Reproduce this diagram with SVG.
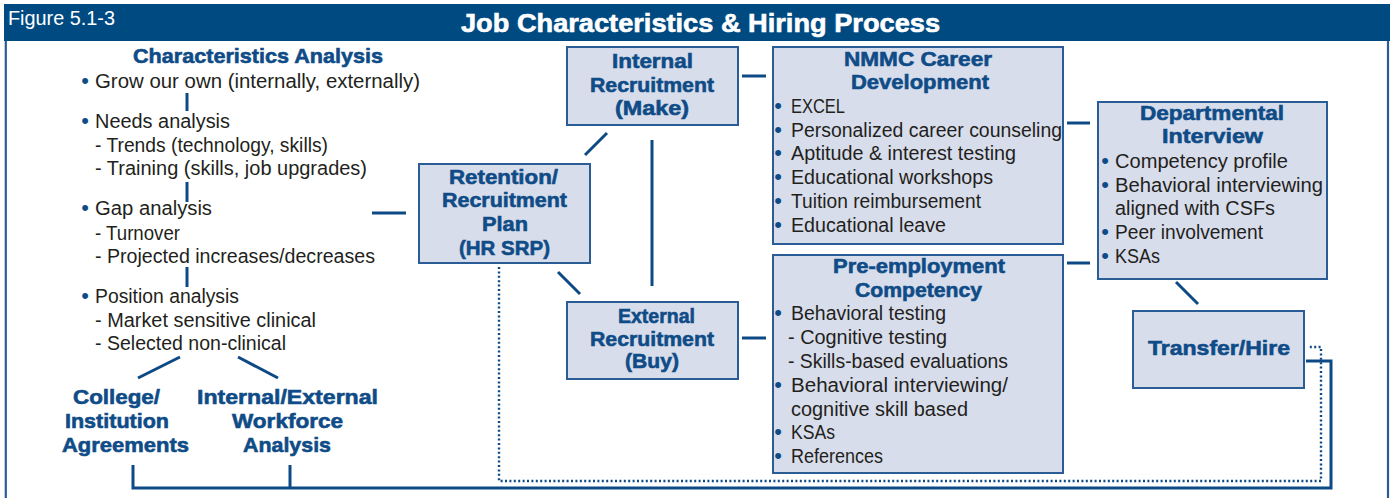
<svg xmlns="http://www.w3.org/2000/svg" width="1392" height="498" viewBox="0 0 1392 498">
<style>
.hd{font-family:"Liberation Sans",Arial,sans-serif;font-weight:bold;font-size:21px;fill:#0F4C87;stroke:#0F4C87;stroke-width:0.6}
.tx{font-family:"Liberation Sans",Arial,sans-serif;font-size:20px;fill:#231F20}
.bu{font-family:"Liberation Sans",Arial,sans-serif;font-size:22px;fill:#0F4C87;text-anchor:middle}
.box{fill:#D8DDEB;stroke:#2A5C95;stroke-width:2}
.ln{fill:none;stroke:#0D4A85;stroke-width:3}
.dot{fill:none;stroke:#0D4A85;stroke-width:2.4;stroke-dasharray:2 2.4}
</style>
<rect width="1392" height="498" fill="#FFFFFF"/>
<g id="frame">
<rect x="4" y="4" width="1386" height="37" fill="#004A82"/>
<line x1="5.8" y1="41" x2="5.8" y2="498" stroke="#2A5C95" stroke-width="2.2"/>
<line x1="1388" y1="41" x2="1388" y2="498" stroke="#2A5C95" stroke-width="2.2"/>
<text x="8" y="25" font-family="Liberation Sans,Arial,sans-serif" font-size="19.5" fill="#FFFFFF" textLength="107" lengthAdjust="spacingAndGlyphs">Figure 5.1-3</text>
<text x="461" y="32" font-family="Liberation Sans,Arial,sans-serif" font-weight="bold" font-size="26" fill="#FFFFFF" stroke="#FFFFFF" stroke-width="0.6" textLength="479" lengthAdjust="spacingAndGlyphs">Job Characteristics &amp; Hiring Process</text>
</g>
<g id="connectors">
<line class="ln" x1="187" y1="93" x2="187" y2="111"/>
<line class="ln" x1="187" y1="182" x2="187" y2="202"/>
<line class="ln" x1="187" y1="267" x2="187" y2="287"/>
<line class="ln" x1="180" y1="357" x2="138" y2="378"/>
<line class="ln" x1="238" y1="357" x2="278" y2="378"/>
<line class="ln" x1="372" y1="213" x2="406" y2="213"/>
<line class="ln" x1="585" y1="155" x2="607" y2="133"/>
<line class="ln" x1="558" y1="272" x2="580" y2="294"/>
<line class="ln" x1="652" y1="140" x2="652" y2="286"/>
<line class="ln" x1="742" y1="76" x2="766" y2="76"/>
<line class="ln" x1="742" y1="338" x2="766" y2="338"/>
<line class="ln" x1="1067" y1="123" x2="1090" y2="123"/>
<line class="ln" x1="1067" y1="263" x2="1090" y2="263"/>
<line class="ln" x1="1176" y1="282" x2="1198" y2="304"/>
<polyline class="ln" points="133,465 133,488 1331,488 1331,361 1306,361"/>
<line class="ln" x1="290" y1="465" x2="290" y2="488"/>
<polyline class="dot" points="499,267 499,481 1321,481 1321,347 1309,347"/>
</g>
<g id="characteristics-analysis">
<text class="hd" x="133" y="63" textLength="250" lengthAdjust="spacingAndGlyphs">Characteristics Analysis</text>
<text class="bu" x="85" y="88">•</text>
<text class="tx" x="95" y="88" textLength="325" lengthAdjust="spacingAndGlyphs">Grow our own (internally, externally)</text>
<text class="bu" x="85" y="128">•</text>
<text class="tx" x="95" y="128" textLength="135" lengthAdjust="spacingAndGlyphs">Needs analysis</text>
<text class="tx" x="95" y="152" textLength="233" lengthAdjust="spacingAndGlyphs">- Trends (technology, skills)</text>
<text class="tx" x="95" y="175" textLength="272" lengthAdjust="spacingAndGlyphs">- Training (skills, job upgrades)</text>
<text class="bu" x="85" y="215">•</text>
<text class="tx" x="95" y="215" textLength="117" lengthAdjust="spacingAndGlyphs">Gap analysis</text>
<text class="tx" x="95" y="240" textLength="85" lengthAdjust="spacingAndGlyphs">- Turnover</text>
<text class="tx" x="95" y="263" textLength="280" lengthAdjust="spacingAndGlyphs">- Projected increases/decreases</text>
<text class="bu" x="85" y="303">•</text>
<text class="tx" x="95" y="303" textLength="144" lengthAdjust="spacingAndGlyphs">Position analysis</text>
<text class="tx" x="95" y="327" textLength="221" lengthAdjust="spacingAndGlyphs">- Market sensitive clinical</text>
<text class="tx" x="95" y="350" textLength="191" lengthAdjust="spacingAndGlyphs">- Selected non-clinical</text>
</g>
<g id="college-agreements">
<text class="hd" x="73" y="404" textLength="87" lengthAdjust="spacingAndGlyphs">College/</text>
<text class="hd" x="65" y="428" textLength="104" lengthAdjust="spacingAndGlyphs">Institution</text>
<text class="hd" x="62" y="452" textLength="127" lengthAdjust="spacingAndGlyphs">Agreements</text>
</g>
<g id="workforce-analysis">
<text class="hd" x="197" y="404" textLength="181" lengthAdjust="spacingAndGlyphs">Internal/External</text>
<text class="hd" x="232" y="428" textLength="111" lengthAdjust="spacingAndGlyphs">Workforce</text>
<text class="hd" x="243" y="452" textLength="88" lengthAdjust="spacingAndGlyphs">Analysis</text>
</g>
<g id="retention-plan">
<rect class="box" x="419" y="164" width="171" height="99"/>
<text class="hd" x="449" y="184" textLength="109" lengthAdjust="spacingAndGlyphs">Retention/</text>
<text class="hd" x="442" y="207" textLength="125" lengthAdjust="spacingAndGlyphs">Recruitment</text>
<text class="hd" x="482" y="231" textLength="46" lengthAdjust="spacingAndGlyphs">Plan</text>
<text class="hd" x="459" y="255" textLength="91" lengthAdjust="spacingAndGlyphs">(HR SRP)</text>
</g>
<g id="internal-recruitment">
<rect class="box" x="567" y="47" width="171" height="78"/>
<text class="hd" x="612" y="68" textLength="81" lengthAdjust="spacingAndGlyphs">Internal</text>
<text class="hd" x="590" y="92" textLength="124" lengthAdjust="spacingAndGlyphs">Recruitment</text>
<text class="hd" x="615" y="115" textLength="74" lengthAdjust="spacingAndGlyphs">(Make)</text>
</g>
<g id="external-recruitment">
<rect class="box" x="567" y="302" width="171" height="77"/>
<text class="hd" x="618" y="323" textLength="77" lengthAdjust="spacingAndGlyphs">External</text>
<text class="hd" x="590" y="346" textLength="124" lengthAdjust="spacingAndGlyphs">Recruitment</text>
<text class="hd" x="625" y="368" textLength="54" lengthAdjust="spacingAndGlyphs">(Buy)</text>
</g>
<g id="career-development">
<rect class="box" x="773" y="47" width="290" height="197"/>
<text class="hd" x="844" y="66" textLength="148" lengthAdjust="spacingAndGlyphs">NMMC Career</text>
<text class="hd" x="851" y="89" textLength="138" lengthAdjust="spacingAndGlyphs">Development</text>
<text class="bu" x="778" y="113">•</text>
<text class="tx" x="791" y="113" textLength="54" lengthAdjust="spacingAndGlyphs">EXCEL</text>
<text class="bu" x="778" y="137">•</text>
<text class="tx" x="791" y="137" textLength="271" lengthAdjust="spacingAndGlyphs">Personalized career counseling</text>
<text class="bu" x="778" y="160">•</text>
<text class="tx" x="791" y="160" textLength="225" lengthAdjust="spacingAndGlyphs">Aptitude &amp; interest testing</text>
<text class="bu" x="778" y="184">•</text>
<text class="tx" x="791" y="184" textLength="202" lengthAdjust="spacingAndGlyphs">Educational workshops</text>
<text class="bu" x="778" y="208">•</text>
<text class="tx" x="791" y="208" textLength="190" lengthAdjust="spacingAndGlyphs">Tuition reimbursement</text>
<text class="bu" x="778" y="232">•</text>
<text class="tx" x="791" y="232" textLength="155" lengthAdjust="spacingAndGlyphs">Educational leave</text>
</g>
<g id="pre-employment">
<rect class="box" x="773" y="255" width="290" height="218"/>
<text class="hd" x="833" y="273" textLength="172" lengthAdjust="spacingAndGlyphs">Pre-employment</text>
<text class="hd" x="855" y="297" textLength="127" lengthAdjust="spacingAndGlyphs">Competency</text>
<text class="bu" x="778" y="320">•</text>
<text class="tx" x="791" y="320" textLength="155" lengthAdjust="spacingAndGlyphs">Behavioral testing</text>
<text class="tx" x="788" y="344" textLength="159" lengthAdjust="spacingAndGlyphs">- Cognitive testing</text>
<text class="tx" x="788" y="368" textLength="220" lengthAdjust="spacingAndGlyphs">- Skills-based evaluations</text>
<text class="bu" x="778" y="392">•</text>
<text class="tx" x="791" y="392" textLength="217" lengthAdjust="spacingAndGlyphs">Behavioral interviewing/</text>
<text class="tx" x="791" y="416" textLength="177" lengthAdjust="spacingAndGlyphs">cognitive skill based</text>
<text class="bu" x="778" y="439">•</text>
<text class="tx" x="791" y="439" textLength="44" lengthAdjust="spacingAndGlyphs">KSAs</text>
<text class="bu" x="778" y="463">•</text>
<text class="tx" x="791" y="463" textLength="92" lengthAdjust="spacingAndGlyphs">References</text>
</g>
<g id="departmental-interview">
<rect class="box" x="1098" y="102" width="229" height="177"/>
<text class="hd" x="1140" y="120" textLength="144" lengthAdjust="spacingAndGlyphs">Departmental</text>
<text class="hd" x="1162" y="143" textLength="101" lengthAdjust="spacingAndGlyphs">Interview</text>
<text class="bu" x="1105" y="168">•</text>
<text class="tx" x="1115" y="168" textLength="173" lengthAdjust="spacingAndGlyphs">Competency profile</text>
<text class="bu" x="1105" y="192">•</text>
<text class="tx" x="1115" y="192" textLength="208" lengthAdjust="spacingAndGlyphs">Behavioral interviewing</text>
<text class="tx" x="1115" y="215" textLength="160" lengthAdjust="spacingAndGlyphs">aligned with CSFs</text>
<text class="bu" x="1105" y="239">•</text>
<text class="tx" x="1115" y="239" textLength="148" lengthAdjust="spacingAndGlyphs">Peer involvement</text>
<text class="bu" x="1105" y="263">•</text>
<text class="tx" x="1115" y="263" textLength="45" lengthAdjust="spacingAndGlyphs">KSAs</text>
</g>
<g id="transfer-hire">
<rect class="box" x="1133" y="311" width="171" height="77"/>
<text class="hd" x="1148" y="355" textLength="142" lengthAdjust="spacingAndGlyphs">Transfer/Hire</text>
</g>
</svg>
